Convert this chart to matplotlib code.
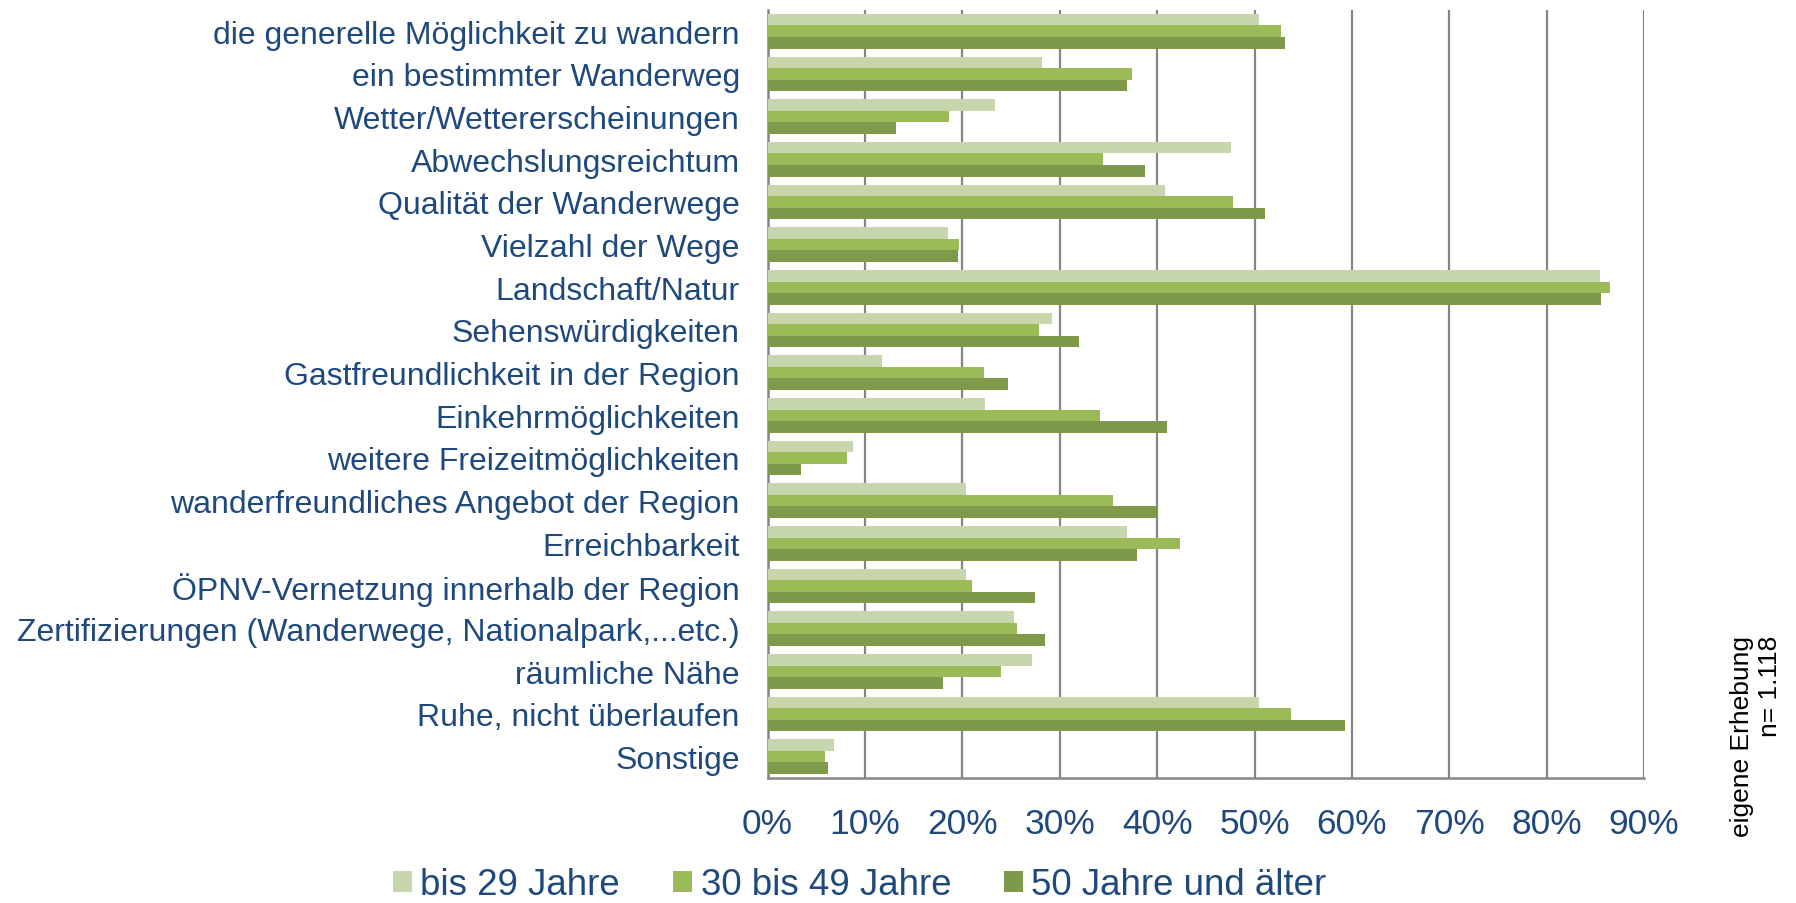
import numpy as np
import matplotlib
matplotlib.use('Agg')
import matplotlib.pyplot as plt
from matplotlib.ticker import FuncFormatter

plt.rcParams['font.family'] = ['Liberation Sans', 'DejaVu Sans']

# categories, top to bottom
categories = [
    'die generelle Möglichkeit zu wandern',
    'ein bestimmter Wanderweg',
    'Wetter/Wettererscheinungen',
    'Abwechslungsreichtum',
    'Qualität der Wanderwege',
    'Vielzahl der Wege',
    'Landschaft/Natur',
    'Sehenswürdigkeiten',
    'Gastfreundlichkeit in der Region',
    'Einkehrmöglichkeiten',
    'weitere Freizeitmöglichkeiten',
    'wanderfreundliches Angebot der Region',
    'Erreichbarkeit',
    'ÖPNV-Vernetzung innerhalb der Region',
    'Zertifizierungen (Wanderwege, Nationalpark,...etc.)',
    'räumliche Nähe',
    'Ruhe, nicht überlaufen',
    'Sonstige',
]

series_names = ['bis 29 Jahre', '30 bis 49 Jahre', '50 Jahre und älter']

# shares in percent
bis29 = [50.5, 28.2, 23.3, 47.6, 40.8, 18.5, 85.5, 29.2, 11.7, 22.3,
         8.8, 20.4, 36.9, 20.4, 25.3, 27.2, 50.5, 6.8]
bis49 = [52.7, 37.4, 18.6, 34.4, 47.8, 19.7, 86.5, 27.9, 22.2, 34.1,
         8.2, 35.5, 42.3, 21.0, 25.6, 24.0, 53.7, 5.9]
ab50 = [53.1, 36.9, 13.2, 38.8, 51.1, 19.6, 85.6, 32.0, 24.7, 41.0,
        3.4, 40.0, 37.9, 27.5, 28.5, 18.0, 59.3, 6.2]

x_ticks = [0, 10, 20, 30, 40, 50, 60, 70, 80, 90]

colors = ['#C7D6AD', '#9BBB59', '#7F994A']
text_col = '#1F497D'
grid_col = '#868686'

fig = plt.figure(figsize=(17.96, 9.04), dpi=100)
ax = fig.add_axes([0.4274, 0.1383, 0.488, 0.8496])

y = np.arange(len(categories))
h = 0.271
for i, (vals, col, name) in enumerate(zip([bis29, bis49, ab50], colors, series_names)):
    ax.barh(y + (i - 1) * h, vals, height=h, color=col, label=name, zorder=3)

ax.set_xlim(0, 90)
ax.set_ylim(len(categories) - 0.5, -0.5)
ax.set_xticks(x_ticks)
ax.xaxis.set_major_formatter(FuncFormatter(lambda v, p: f'{int(v)}%'))
ax.set_yticks(y)
ax.set_yticklabels(categories)

ax.grid(axis='x', color=grid_col, linewidth=1.6, zorder=0)
ax.set_axisbelow(True)
for s in ['top', 'right']:
    ax.spines[s].set_visible(False)
for s in ['left', 'bottom']:
    ax.spines[s].set_color(grid_col)
    ax.spines[s].set_linewidth(1.8)

ax.tick_params(axis='y', length=0, pad=20, labelsize=23, labelcolor=text_col)
ax.tick_params(axis='x', length=0, pad=21, labelsize=25.5, labelcolor=text_col)

leg = fig.legend(loc='center', bbox_to_anchor=(860 / 1796, 1 - 886 / 904), ncol=3,
                 frameon=False, fontsize=26.4, handlelength=0.52, handleheight=0.52,
                 handletextpad=0.22, columnspacing=1.45, borderpad=0.1)
for t in leg.get_texts():
    t.set_color(text_col)

fig.text(1756 / 1796, 1 - 636 / 904, 'eigene Erhebung\nn= 1.118', rotation=90,
         ha='center', va='top', multialignment='right', fontsize=19, color='black')

fig.savefig('out.png', dpi=100)
